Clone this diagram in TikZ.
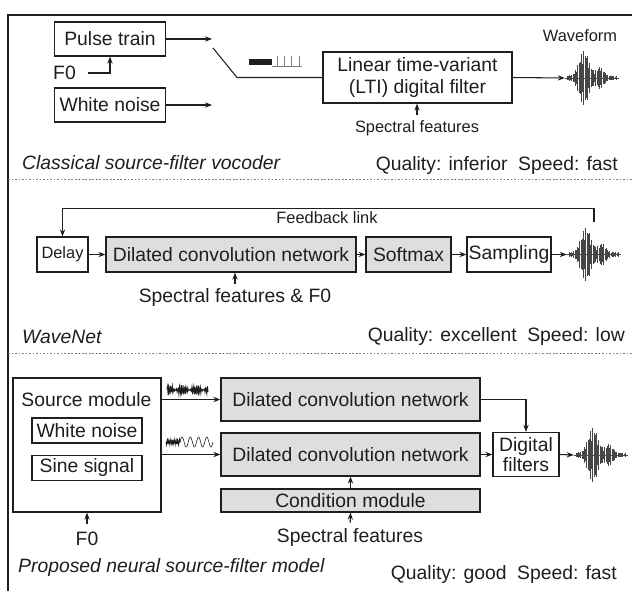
\documentclass[tikz,border=0pt]{standalone}
\usepackage{fontspec}
\setmainfont{Liberation Sans}
\usepackage{xcolor}
\usepackage{tikz}
\usetikzlibrary{arrows.meta}
\definecolor{ink}{RGB}{30, 30, 30}
\definecolor{boxgray}{RGB}{222, 222, 222}
\definecolor{wavegray}{RGB}{70, 70, 70}

\tikzset{
  txt/.style={font=\fontsize{16.5}{19}\selectfont, text=ink, inner sep=0pt},
  small/.style={font=\fontsize{14}{16}\selectfont, text=ink, inner sep=0pt},
  ttl/.style={txt, font=\fontsize{16.5}{19}\selectfont\itshape},
  blk/.style={txt, draw=ink, line width=1pt, fill=white},
  gblk/.style={blk, fill=boxgray},
  wavebox/.style={minimum width=1.62cm, minimum height=1.65cm, inner sep=0pt},
  arr/.style={draw=ink, line width=0.9pt, -{Stealth[length=6pt,width=4.5pt]}},
  sep/.style={draw=gray, line width=0.6pt, dash pattern=on 1.5pt off 1.5pt},
}

% speech burst drawn around a node centre
\newcommand\burst[1]{%
  \begin{scope}[shift={(#1)}, wavegray, line width=0.7pt]
    \draw (-27,0) -- (27,0);
    \foreach \t in {-25,-23.8,...,25}{
      \pgfmathsetmacro\a{(25*exp(-(((\t+8)/7)^2))+9*exp(-(((\t-8)/5)^2))+2.5)*(0.5+0.5*abs(sin(\t*211)))}
      \draw (\t,-\a) -- (\t,\a);
    }
  \end{scope}}

\begin{document}
\begin{tikzpicture}[x=0.03cm, y=-0.03cm]
\useasboundingbox (0,0) rectangle (632,591);
\draw[ink, line width=1.6pt] (8,600) -- (8,15) -- (640,15);

% classical vocoder
\node[blk, minimum width=3.33cm, minimum height=1.02cm] (pulse) at (110,39) {Pulse train};
\node[blk, minimum width=3.33cm, minimum height=1.02cm] (noise) at (110,105) {White noise};
\node[txt, anchor=west] (f0a) at (53,73) {F0};
\draw[arr] ([xshift=10pt]f0a.east) -| (pulse.south);
\coordinate (pulseend) at (212,39);
\coordinate (noiseend) at (212,105);
\draw[arr] (pulse.east) -- (pulseend);
\draw[arr] (noise.east) -- (noiseend);
\node[blk, minimum width=5.67cm, minimum height=1.53cm, align=center] (lti) at (417.5,77.5) {Linear time-variant\\(LTI) digital filter};
\coordinate (sw) at (213,48);
\coordinate (swk) at (237,77.5);
\draw[ink, line width=0.9pt] (sw) -- (swk) -- (lti.west);
\fill[ink] (249,59) rectangle (272,65);
\draw[gray, line width=0.6pt] (272,66) -- (302,66);
\foreach \p in {277,284,291,299} \draw[gray, line width=0.6pt] (\p,66) -- (\p,56);
\node[small] (spec1) at (417,128) {Spectral features};
\draw[arr, shorten <=4pt] (spec1.north) -- (spec1.north |- lti.south);
\node[wavebox] (w1) at (592,78) {};
\burst{w1}
\node[small] (wflbl) at (580,36) {Waveform};
\draw[arr] (lti.east) -- (w1.west);
\node[ttl, anchor=west] (t1) at (22,163) {Classical source-filter vocoder};
\node[txt, anchor=east] (q1) at (618,166) {Quality: inferior\hspace{9pt}Speed: fast};
\draw[sep] (8,179) -- (640,179);

% WaveNet
\node[blk, small, minimum width=1.53cm, minimum height=1.05cm] (delay) at (62.5,254.5) {Delay};
\node[gblk, minimum width=7.5cm, minimum height=1.05cm] (dcn) at (231,254.5) {Dilated convolution network};
\node[gblk, minimum width=2.55cm, minimum height=1.05cm] (soft) at (408.5,254.5) {Softmax};
\node[blk, minimum width=2.52cm, minimum height=1.05cm] (samp) at (509,254.5) {Sampling};
\node[wavebox] (w2) at (594,254.5) {};
\burst{w2}
\draw[arr] (delay) -- (dcn);
\draw[arr] (dcn) -- (soft);
\draw[arr] (soft) -- (samp);
\draw[arr] (samp) -- (w2.west);
\draw[arr] ([yshift=4pt]w2.north) -- ++(0,-14) -| (delay.north);
\node[small] (fb) at (327,218) {Feedback link};
\node[txt] (spec2) at (235,298) {Spectral features \& F0};
\draw[arr, shorten <=4pt] (spec2.north) -- (spec2.north |- dcn.south);
\node[ttl, anchor=west] (t2) at (22,337) {WaveNet};
\node[txt, anchor=east] (q2) at (625,337) {Quality: excellent\hspace{9pt}Speed: low};
\draw[sep] (8,353) -- (640,353);

% neural source-filter model
\node[blk, minimum width=4.44cm, minimum height=4.02cm] (src) at (87,445) {};
\node[txt] (srclbl) at (86.5,400) {Source module};
\node[blk, minimum width=3.3cm, minimum height=0.75cm] (wn) at (87,430.5) {White noise};
\node[blk, minimum width=3.3cm, minimum height=0.75cm] (sine) at (87,468) {Sine signal};
\node[gblk, minimum width=7.77cm, minimum height=1.29cm] (dcnA) at (350.5,399.5) {Dilated convolution network};
\node[gblk, minimum width=7.77cm, minimum height=1.29cm] (dcnB) at (350.5,454.5) {Dilated convolution network};
\node[gblk, minimum width=7.77cm, minimum height=0.69cm] (cond) at (350.5,500.5) {Condition module};
\node[blk, minimum width=1.98cm, minimum height=1.32cm, align=center, font=\fontsize{16.5}{15}\selectfont] (df) at (526,454.5) {Digital\\filters};
\node[wavebox] (w3) at (601,455) {};
\burst{w3}
\draw[arr] (src.east |- dcnA.west) -- (dcnA.west);
\draw[arr] (src.east |- dcnB.west) -- (dcnB.west);
\draw[arr] (dcnA.east) -| (df.north);
\draw[arr] (dcnB.east) -- (df.west);
\draw[arr] (df.east) -- (w3.west);
\draw[arr] (cond.north) -- (dcnB.south);
\draw[ink, line width=0.9pt] plot[domain=167:208, samples=70] (\x, {390+5*sin((\x-166)*290)*cos((\x-166)*83)});
\draw[ink, line width=0.8pt] plot[domain=166:180, samples=30] (\x, {442+5*sin((\x-166)*290)*cos((\x-166)*83)});
\draw[ink, line width=0.5pt] plot[domain=180:213, samples=80] (\x, {442-5*sin((\x-180)*360/8.25)});
\node[txt] (f0b) at (87,539) {F0};
\draw[arr, shorten <=7pt] (f0b.north) -- (src.south);
\node[txt] (spec3) at (350,538) {Spectral features};
\draw[arr, shorten <=5pt] (spec3.north) -- (cond.south);
\node[ttl, anchor=west] (t3) at (18,568) {Proposed neural source-filter model};
\node[txt, anchor=east] (q3) at (617,575) {Quality: good\hspace{9pt}Speed: fast};
\end{tikzpicture}
\end{document}
